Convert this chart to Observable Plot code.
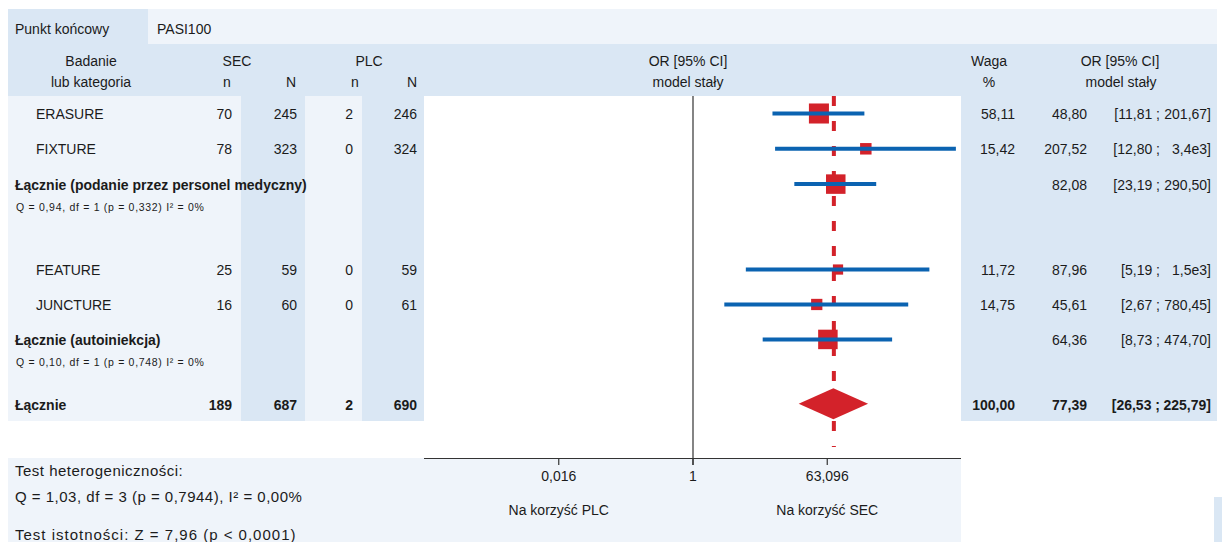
<!DOCTYPE html>
<html><head><meta charset="utf-8">
<script src="https://cdn.jsdelivr.net/npm/d3@7"></script>
<script src="https://cdn.jsdelivr.net/npm/@observablehq/plot@0.6"></script>
<style>
html,body{margin:0;padding:0;background:#fff;}
#page{position:relative;width:1222px;height:542px;overflow:hidden;font-family:"Liberation Sans",Arial,sans-serif;font-size:14px;color:#1b1b1b;}
.bg{position:absolute;}
.t{position:absolute;white-space:pre;line-height:1;}
#forest{position:absolute;}
#forest svg{overflow:visible;}
</style></head><body><div id="page"></div>
<script>
// ---------------- DATA ----------------
const endpointLabel = "Punkt końcowy";
const endpointValue = "PASI100";
const headerStudy = ["Badanie", "lub kategoria"];
const armNames = ["SEC", "PLC"];
const headerForest = ["OR [95% CI]", "model stały"];
const headerWeight = ["Waga", "%"];

const studies    = ["ERASURE", "FIXTURE", "FEATURE", "JUNCTURE"];
const secEvents  = [70, 78, 25, 16];
const secTotal   = [245, 323, 59, 60];
const plcEvents  = [2, 0, 0, 0];
const plcTotal   = [246, 324, 59, 61];
const weightPct  = [58.11, 15.42, 11.72, 14.75];
const orEst      = [48.80, 207.52, 87.96, 45.61];
const orLow      = [11.81, 12.80, 5.19, 2.67];
const orHigh     = [201.67, 3400, 1500, 780.45];

const groupLabels = ["Łącznie (podanie przez personel medyczny)", "Łącznie (autoiniekcja)"];
const groupHet    = ["Q = 0,94, df = 1 (p = 0,332) I² = 0%", "Q = 0,10, df = 1 (p = 0,748) I² = 0%"];
const groupOr     = [82.08, 64.36];
const groupLow    = [23.19, 8.73];
const groupHigh   = [290.50, 474.70];

const totalLabel = "Łącznie";
const totalCounts = [189, 687, 2, 690];
const totalWeight = 100.00;
const totalOr = 77.39, totalLow = 26.53, totalHigh = 225.79;

const axisTicks = [0.015849, 1, 63.0957];
const axisTickLabels = ["0,016", "1", "63,096"];
const favourLabels = ["Na korzyść PLC", "Na korzyść SEC"];
const footerLines = ["Test heterogeniczności:", "Q = 1,03, df = 3 (p = 0,7944), I² = 0,00%", "Test istotności: Z = 7,96 (p < 0,0001)"];

// ---------------- LAYOUT ----------------
const RED = "#d3222a", BLUE = "#0b63b1", C1 = "#dae7f4", C2 = "#eff4fa";
const X0 = 424, X1 = 961, TOP = 96, AXIS_Y = 458, ROW0 = 113, ROW_H = 35.3;
const studySlot = [0, 1, 4.42, 5.41], groupSlot = [2, 6.4], totalSlot = 8.24;
const pageY = s => ROW0 + s * ROW_H;

const page = document.getElementById("page");
function box(x, y, w, h, c) {
  const d = document.createElement("div"); d.className = "bg";
  Object.assign(d.style, {left: x + "px", top: y + "px", width: w + "px", height: h + "px", background: c});
  page.appendChild(d);
}
function txt(s, x, y, o = {}) {
  const d = document.createElement("div"); d.className = "t"; d.textContent = s;
  const tx = o.anchor === "middle" ? "-50%" : o.anchor === "end" ? "-100%" : "0";
  Object.assign(d.style, {left: x + "px", top: y + "px", fontSize: (o.size || 14) + "px",
    fontWeight: o.bold ? "bold" : "normal", letterSpacing: (o.ls || 0) + "px",
    transform: `translate(${tx},-50%)`});
  page.appendChild(d);
}
const f2 = v => v.toFixed(2).replace(".", ",");
const fUp = v => v >= 1000 ? (v / 1000).toFixed(1).replace(".", ",") + "e3" : f2(v);

// backgrounds
box(8, 9, 140, 35, C1);
box(148, 9, 1069, 35, C2);
box(8, 44, 1209, 52, C1);
box(8, 96, 416, 325, C2);
box(241, 96, 64, 325, C1);
box(362, 96, 62, 325, C1);
box(961, 96, 256, 325, C1);
box(8, 458, 953, 84, C2);
box(1214, 497, 8, 45, C1);

// header text
txt(endpointLabel, 15, 29);
txt(endpointValue, 157, 29);
txt(headerStudy[0], 91, 61, {anchor: "middle"});
txt(headerStudy[1], 91, 82, {anchor: "middle"});
txt(armNames[0], 237, 61, {anchor: "middle"});
txt(armNames[1], 369, 61, {anchor: "middle"});
[[227, "n"], [291, "N"], [355, "n"], [412, "N"]].forEach(([x, s]) => txt(s, x, 82, {anchor: "middle"}));
txt(headerForest[0], 688, 61, {anchor: "middle"});
txt(headerForest[1], 688, 82, {anchor: "middle"});
txt(headerWeight[0], 989, 61, {anchor: "middle"});
txt(headerWeight[1], 989, 82, {anchor: "middle"});
txt(headerForest[0], 1120, 61, {anchor: "middle"});
txt(headerForest[1], 1121, 82, {anchor: "middle"});

const colRight = [232, 297, 353, 417];
function ciText(lo, hi, y, bold) {
  txt("[" + f2(lo) + " ;", 1160, y, {anchor: "end", bold});
  txt(fUp(hi) + "]", 1211, y, {anchor: "end", bold});
}
studies.forEach((name, i) => {
  const y = pageY(studySlot[i]) + 1;
  txt(name, 36, y);
  [secEvents[i], secTotal[i], plcEvents[i], plcTotal[i]].forEach((v, j) => txt(String(v), colRight[j], y, {anchor: "end"}));
  txt(f2(weightPct[i]), 1015, y, {anchor: "end"});
  txt(f2(orEst[i]), 1087, y, {anchor: "end"});
  ciText(orLow[i], orHigh[i], y, false);
});
groupLabels.forEach((name, i) => {
  const y = pageY(groupSlot[i]) + 1;
  txt(name, 15, y, {bold: true});
  txt(groupHet[i], 16, y + 22, {size: 10.5, ls: 0.7});
  txt(f2(groupOr[i]), 1087, y, {anchor: "end"});
  ciText(groupLow[i], groupHigh[i], y, false);
});
{
  const y = pageY(totalSlot) + 1;
  txt(totalLabel, 15, y, {bold: true});
  totalCounts.forEach((v, j) => txt(String(v), colRight[j], y, {anchor: "end", bold: true}));
  txt(f2(totalWeight), 1015, y, {anchor: "end", bold: true});
  txt(f2(totalOr), 1087, y, {anchor: "end", bold: true});
  ciText(totalLow, totalHigh, y, true);
}
txt(footerLines[0], 15, 470, {size: 15, ls: 0.5});
txt(footerLines[1], 15, 496, {size: 15, ls: 0.5});
txt(footerLines[2], 15, 534, {size: 15, ls: 1});

// ---------------- FOREST PLOT ----------------
const studyRows = studies.map((name, i) => ({name, slot: studySlot[i], or: orEst[i], lo: orLow[i], hi: orHigh[i], w: weightPct[i]}));
const groupRows = groupLabels.map((name, i) => ({name, slot: groupSlot[i], or: groupOr[i], lo: groupLow[i], hi: groupHigh[i]}));
const yTop = (TOP - ROW0) / ROW_H, yAxis = (AXIS_Y - ROW0) / ROW_H, yDashEnd = (447 - ROW0) / ROW_H;
const yTickEnd = yAxis + 7 / ROW_H;
const half = 15.5 / ROW_H;
const diamond = [
  {x: totalLow, y1: totalSlot, y2: totalSlot},
  {x: totalOr, y1: totalSlot - half, y2: totalSlot + half},
  {x: totalHigh, y1: totalSlot, y2: totalSlot}
];
const H = 446;
const chart = Plot.plot({
  width: X1 - X0, height: H,
  marginLeft: 0, marginRight: 0, marginTop: 0, marginBottom: H - (AXIS_Y - TOP),
  style: {fontFamily: '"Liberation Sans", Arial, sans-serif', fontSize: "14px", color: "#1b1b1b", background: "transparent"},
  x: {type: "log", domain: [10 ** -3.6, 10 ** 3.6], label: null, axis: null},
  y: {domain: [yTop, yAxis], range: [0, AXIS_Y - TOP], axis: null},
  r: {type: "pow", exponent: 0.42, domain: [0, 100], range: [0, 14.2]},
  marks: [
    Plot.ruleX([1], {y1: yTop, y2: yTickEnd, stroke: "#333", strokeWidth: 1.2}),
    Plot.ruleX([totalOr], {y1: yTop, y2: yDashEnd, stroke: RED, strokeWidth: 4, strokeDasharray: "10,15"}),
    Plot.dot(studyRows, {x: "or", y: "slot", r: "w", symbol: "square", fill: RED}),
    Plot.dot(groupRows, {x: "or", y: "slot", r: 11, symbol: "square", fill: RED}),
    Plot.ruleY(studyRows, {y: "slot", x1: "lo", x2: "hi", stroke: BLUE, strokeWidth: 4}),
    Plot.ruleY(groupRows, {y: "slot", x1: "lo", x2: "hi", stroke: BLUE, strokeWidth: 4}),
    Plot.areaY(diamond, {x: "x", y1: "y1", y2: "y2", fill: RED}),
    Plot.ruleY([yAxis], {stroke: "#333", strokeWidth: 1.2}),
    Plot.ruleX(axisTicks, {y1: yAxis, y2: yTickEnd, stroke: "#333", strokeWidth: 1.2}),
    Plot.text(axisTicks, {x: d => d, text: (d, i) => axisTickLabels[i], frameAnchor: "bottom", dy: 18, lineAnchor: "middle", fontSize: 14}),
    Plot.text(favourLabels, {x: [axisTicks[0], axisTicks[2]], text: d => d, frameAnchor: "bottom", dy: 52, lineAnchor: "middle", fontSize: 14})
  ]
});
const holder = document.createElement("div");
holder.id = "forest";
holder.style.left = X0 + "px"; holder.style.top = TOP + "px";
holder.appendChild(chart);
page.appendChild(holder);
</script></body></html>
